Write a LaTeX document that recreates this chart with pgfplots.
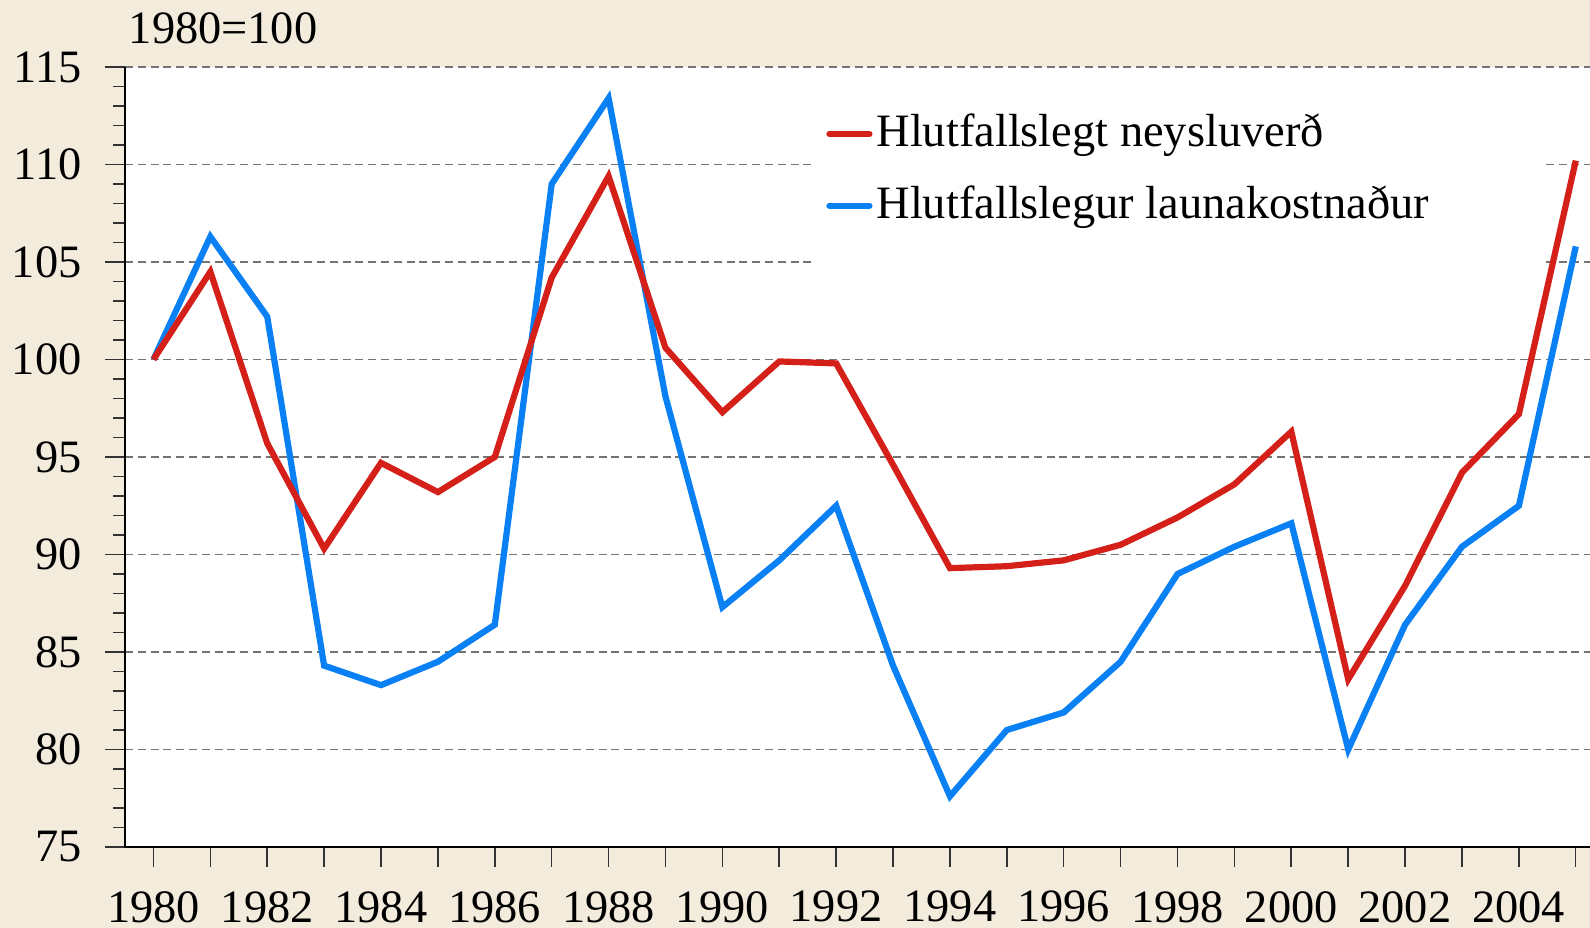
\documentclass[border=0pt]{standalone}
\usepackage{pgfplots}
\pgfplotsset{compat=1.18}
\usepackage{fontspec}
\setmainfont{Liberation Serif}
\definecolor{bg}{RGB}{243,236,220}
\definecolor{myred}{RGB}{213,32,26}
\definecolor{myblue}{RGB}{10,128,245}
\begin{document}
\fontsize{11.6bp}{13.5bp}\selectfont
\begin{tikzpicture}
\fill[bg] (0,0) rectangle (397.5bp,232bp);
\useasboundingbox (0,0) rectangle (397.5bp,232bp);
\begin{axis}[
  at={(31.25bp,20.25bp)}, anchor=south west,
  scale only axis, width=366.25bp, height=195bp,
  xmin=1979.5, xmax=2005.25, ymin=75, ymax=115,
  axis x line*=bottom, axis y line*=left,
  axis line style={-, black, line width=0.5bp},
  axis background/.style={fill=white},
  ytick={75,80,...,115}, minor y tick num=4,
  xtick={1980,...,2005},
  xticklabels={1980,,1982,,1984,,1986,,1988,,1990,,1992,,1994,,1996,,1998,,2000,,2002,,2004,},
  tick align=outside, major tick length=5bp, minor tick length=3bp,
  tick style={black!80, line width=0.4bp},
  ymajorgrids, grid style={black!55, line width=0.4bp, dash pattern=on 2bp off 1.2bp},
  /pgf/number format/assume math mode=true,
  ticklabel style={font=\fontsize{11.6bp}{13.5bp}\selectfont},
  yticklabel style={xshift=-1.8bp},
  xticklabel style={yshift=-2bp},
  legend style={at={(0.47,0.997)}, anchor=north west, draw=none, fill=white,
    font=\fontsize{11.6bp}{13.5bp}\selectfont, inner xsep=3bp, inner ysep=10bp,
    row sep=6bp, nodes={inner sep=1bp}},
  legend cell align=left,
  legend image code/.code={\draw[#1, line cap=round] (0bp,0bp) -- (10bp,0bp);},
  every axis plot/.append style={line width=1.55bp},
]
\addplot[myblue, forget plot] coordinates {
(1980,100) (1981,106.3) (1982,102.2) (1983,84.3) (1984,83.3) (1985,84.5) (1986,86.4)
(1987,109.0) (1988,113.4) (1989,98.1) (1990,87.3) (1991,89.7) (1992,92.5) (1993,84.3)
(1994,77.6) (1995,81.0) (1996,81.9) (1997,84.5) (1998,89.0) (1999,90.4) (2000,91.6)
(2001,80.0) (2002,86.4) (2003,90.4) (2004,92.5) (2005,105.8)};
\addplot[myred] coordinates {
(1980,100) (1981,104.5) (1982,95.7) (1983,90.3) (1984,94.7) (1985,93.2) (1986,95.0)
(1987,104.2) (1988,109.4) (1989,100.6) (1990,97.3) (1991,99.9) (1992,99.8) (1993,94.6)
(1994,89.3) (1995,89.4) (1996,89.7) (1997,90.5) (1998,91.9) (1999,93.6) (2000,96.3)
(2001,83.6) (2002,88.4) (2003,94.2) (2004,97.2) (2005,110.2)};
\addlegendentry{Hlutfallslegt neysluverð}
\addlegendimage{myblue, line width=1.55bp}
\addlegendentry{Hlutfallslegur launakostnaður\hspace{24bp}\rule[-9bp]{0pt}{1bp}}
\end{axis}
\node[anchor=base west, inner sep=0pt] at (32bp,221bp) {1980=100};
\end{tikzpicture}
\end{document}
